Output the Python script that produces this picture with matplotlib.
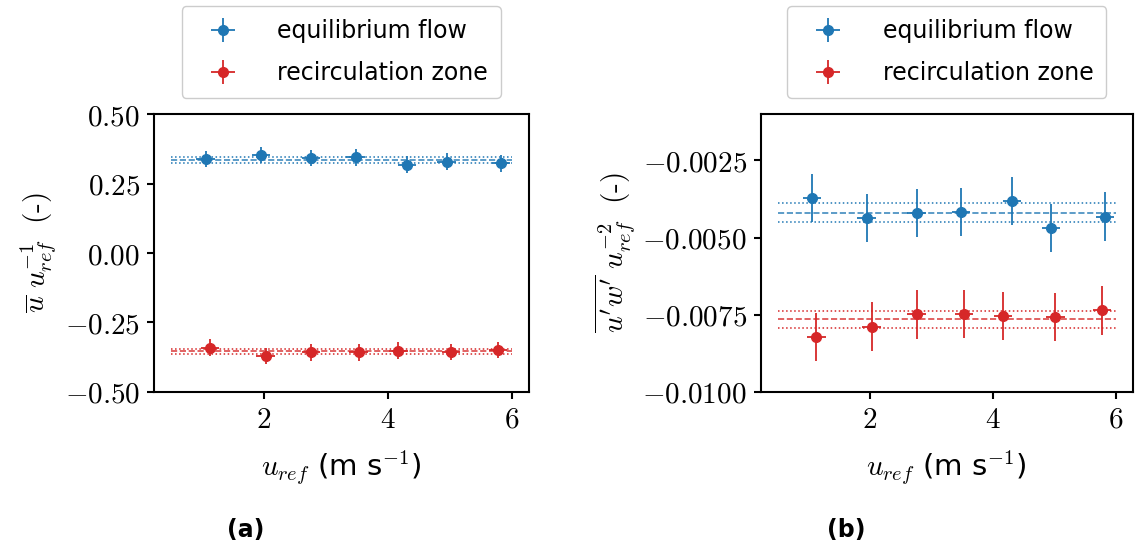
import numpy as np
import matplotlib
matplotlib.use("Agg")
import matplotlib.pyplot as plt
from matplotlib.ticker import FuncFormatter

plt.rcParams["mathtext.fontset"] = "cm"
plt.rcParams["font.family"] = ["DejaVu Sans"]

# reference velocities (m/s)
u_ref_eq = [1.06, 1.95, 2.76, 3.48, 4.31, 4.95, 5.83]
u_ref_rz = [1.13, 2.03, 2.76, 3.53, 4.17, 5.02, 5.78]
u_ref_err = 0.15

# (a) normalised mean velocity
u_eq = [0.338, 0.353, 0.342, 0.344, 0.318, 0.328, 0.323]
u_rz = [-0.340, -0.370, -0.357, -0.357, -0.351, -0.356, -0.349]
u_err = 0.03
u_eq_mean, u_eq_band = 0.335, 0.011
u_rz_mean, u_rz_band = -0.354, 0.008

# (b) normalised shear stress
uw_eq = [-0.00373, -0.00437, -0.00421, -0.00416, -0.00381, -0.00470, -0.00432]
uw_rz = [-0.00822, -0.00788, -0.00749, -0.00747, -0.00755, -0.00757, -0.00736]
uw_err = 0.00078
uw_eq_mean, uw_eq_band = -0.00419, 0.00031
uw_rz_mean, uw_rz_band = -0.00765, 0.00027

BLUE = "#1f77b4"
RED = "#d62728"
FS = 21


def draw_panel(ax, x_eq, y_eq, x_rz, y_rz, yerr, stats):
    for x, y, c, lab, (m, b) in [
        (x_eq, y_eq, BLUE, "equilibrium flow", stats[0]),
        (x_rz, y_rz, RED, "recirculation zone", stats[1]),
    ]:
        ax.errorbar(x, y, xerr=u_ref_err, yerr=yerr, fmt="o", color=c,
                    ms=7, elinewidth=1.3, ecolor=c, label=lab)
        ax.hlines(m, 0.5, 6.0, colors=c, linestyles="--", lw=1.2, alpha=0.85)
        ax.hlines([m - b, m + b], 0.5, 6.0, colors=c, linestyles=":", lw=1.1)
    ax.set_xticks([2, 4, 6])
    ax.xaxis.set_major_formatter(FuncFormatter(lambda v, p: f"${v:.0f}$"))
    ax.set_xlabel(r"$u_{ref}$ (m s$^{\mathsf{-1}}$)", fontsize=FS, labelpad=10)
    ax.tick_params(labelsize=FS, width=1.5, length=5, pad=5)
    for s in ax.spines.values():
        s.set_linewidth(1.5)
    ax.legend(loc="lower center", bbox_to_anchor=(0.5, 1.015), fontsize=17,
              handlelength=2.4, handletextpad=1.1, labelspacing=0.75,
              borderpad=0.55, framealpha=1, edgecolor="#cccccc", fancybox=True)


fig = plt.figure(figsize=(11.36, 5.49), dpi=100)
ax1 = fig.add_axes([0.1356, 0.286, 0.3297, 0.5063])
ax2 = fig.add_axes([0.6696, 0.286, 0.3274, 0.5063])

draw_panel(ax1, u_ref_eq, u_eq, u_ref_rz, u_rz, u_err,
           [(u_eq_mean, u_eq_band), (u_rz_mean, u_rz_band)])
ax1.set_ylim(-0.5, 0.5)
ax1.set_yticks([-0.5, -0.25, 0.0, 0.25, 0.5])
ax1.yaxis.set_major_formatter(FuncFormatter(lambda v, p: f"${v:.2f}$"))
ax1.set_ylabel(r"$\overline{u}\ u_{ref}^{-1}\ \ \text{(-)}$", fontsize=FS)

draw_panel(ax2, u_ref_eq, uw_eq, u_ref_rz, uw_rz, uw_err,
           [(uw_eq_mean, uw_eq_band), (uw_rz_mean, uw_rz_band)])
ax2.set_ylim(-0.01, -0.001)
ax2.set_yticks([-0.01, -0.0075, -0.005, -0.0025])
ax2.yaxis.set_major_formatter(FuncFormatter(lambda v, p: f"${v:.4f}$"))
ax2.set_ylabel(r"$\overline{u'w'}\ u_{ref}^{-2}\ \ \text{(-)}$", fontsize=FS)

fig.text(0.216, 0.035, "(a)", fontsize=17, fontweight="bold", ha="center", va="center")
fig.text(0.745, 0.035, "(b)", fontsize=17, fontweight="bold", ha="center", va="center")

fig.savefig("out.png", dpi=100)
